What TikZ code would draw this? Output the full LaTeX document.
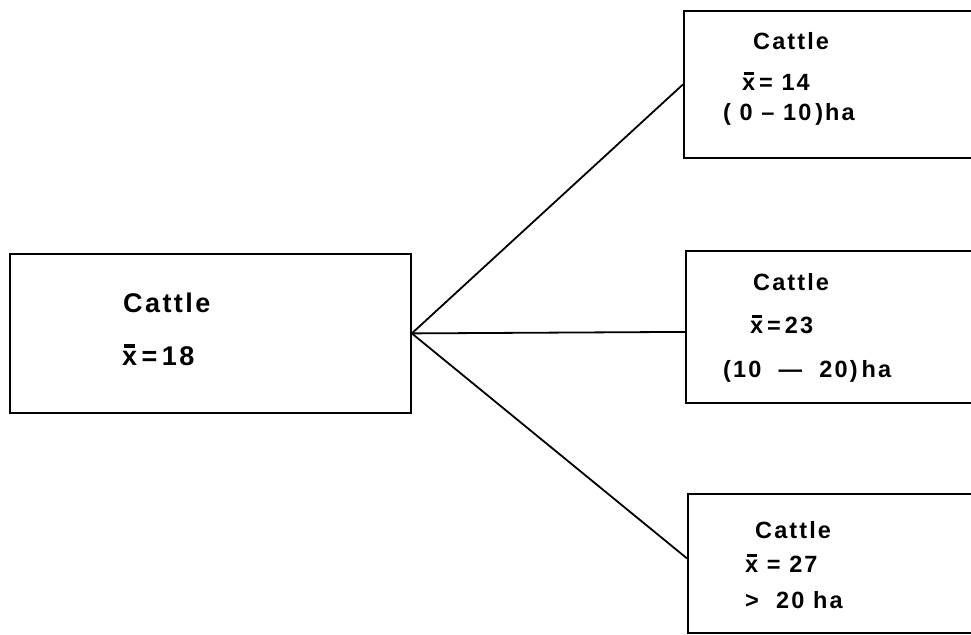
\documentclass[tikz,border=0pt]{standalone}
\usepackage{fontspec}
\newfontfamily\lblA[LetterSpace=9]{Liberation Sans}
\newcommand\xbr{\ooalign{x\cr\hidewidth\rule[0.64em]{0.42em}{0.13em}\hidewidth\cr}}
\begin{document}
\begin{tikzpicture}[x=1pt,y=-1pt,
  box/.style={draw,line width=1.8pt,rectangle,inner sep=0pt,anchor=north west},
  lbl/.style={anchor=base west,inner sep=0pt,font=\lblA\bfseries\fontsize{27}{32}\selectfont},
  lbls/.style={anchor=base west,inner sep=0pt,font=\lblA\bfseries\fontsize{23.5}{28}\selectfont},
  conn/.style={line width=1.8pt}]
\useasboundingbox (0,0) rectangle (971,634);
\clip (0,0) rectangle (971,634);
% boxes
\node[box,minimum width=401pt,minimum height=159pt] (L) at (9,253) {};
\node[box,minimum width=320pt,minimum height=147pt] (T) at (683,10) {};
\node[box,minimum width=320pt,minimum height=152pt] (M) at (685,250) {};
\node[box,minimum width=320pt,minimum height=139pt] (B) at (687,493) {};
% connectors
\draw[conn] (L.east) -- (T.west);
\draw[conn] (L.east) -- ([yshift=-5pt]M.west);
\draw[conn] (L.east) -- ([yshift=5pt]B.west);
% left text
\node[lbl] (L1) at (123,312) {Cattle};
\node[lbl] (L2) at (122,365) {\xbr\,=\,18};
% top text
\node[lbls] (T1) at (753,50) {Cattle};
\node[lbls] (T2) at (742,90) {\xbr\,=\ 14};
\node[lbls] (T3) at (723,120) {(\ 0\ –\ 10\,)ha};
% middle text
\node[lbls] (M1) at (753,290) {Cattle};
\node[lbls] (M2) at (750,333) {\xbr\,=\,23};
\node[lbls] (M3) at (723,377) {(10\ \ —\ \ 20)\,ha};
% bottom text
\node[lbls] (B1) at (755,538) {Cattle};
\node[lbls] (B2) at (745,572) {\xbr\ =\ 27};
\node[lbls] (B3) at (745,608) {>\ \ 20\ ha};
\end{tikzpicture}
\end{document}
